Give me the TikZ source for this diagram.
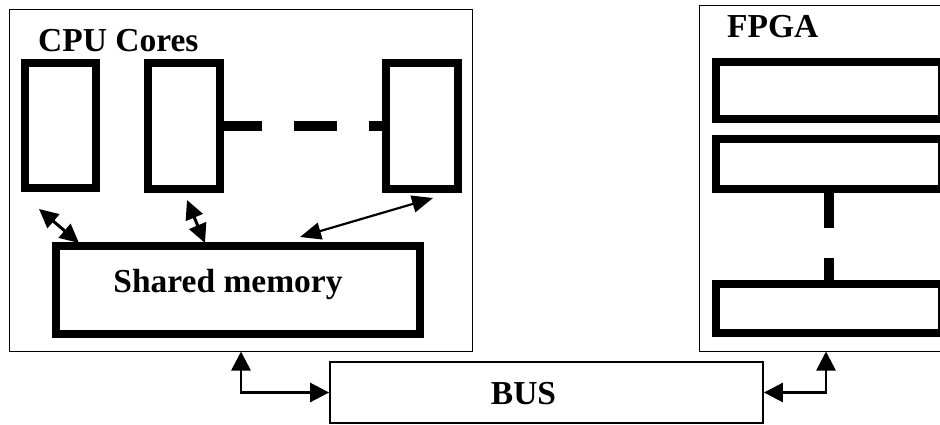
\documentclass[tikz,border=0pt]{standalone}
\usepackage{fontspec}
\setmainfont{Liberation Serif}
\usetikzlibrary{arrows.meta}
\tikzset{
  thinbox/.style={draw, line width=1.8pt, inner sep=0pt, fill=white},
  thickbox/.style={draw, line width=8pt, inner sep=0pt},
  lbl/.style={font=\fontsize{33.5}{40}\selectfont\bfseries, inner sep=0pt},
  buslink/.style={line width=2.7pt, {Triangle[length=19pt,width=19pt]}-{Triangle[length=19pt,width=19pt]}},
  corelink/.style={line width=3pt, {Triangle[length=19pt,width=18pt]}-{Triangle[length=19pt,width=18pt]}},
  corelinkthin/.style={line width=2.2pt, {Triangle[length=21pt,width=17pt]}-{Triangle[length=21pt,width=17pt]}},
  dashlink/.style={line width=10pt}
}
\begin{document}
\begin{tikzpicture}[x=1pt,y=-1pt]
\clip (0,0) rectangle (940,425);
\fill[white] (0,0) rectangle (940,425);
% CPU side
\node[thinbox, minimum width=463pt, minimum height=342pt] (cpu) at (241,180.5) {};
\node[lbl, anchor=base west] (cpulbl) at (38,52) {CPU Cores};
\node[thickbox, minimum width=71pt, minimum height=125pt] (c1) at (60.5,125.5) {};
\node[thickbox, minimum width=72pt, minimum height=126pt] (c2) at (184,126) {};
\node[thickbox, minimum width=72pt, minimum height=126pt] (c3) at (422,126) {};
\node[thickbox, minimum width=364pt, minimum height=88pt] (mem) at (238,290) {};
\node[lbl, anchor=base] (memlbl) at (228,292) {Shared memory};
\draw[dashlink, dash pattern=on 38pt off 32pt on 43pt off 32pt] (c2.east) -- (c2.east -| c3.west);
\coordinate (a1s) at (39,209);
\coordinate (a1e) at (79,243);
\coordinate (a2s) at (187,200);
\coordinate (a2e) at (205,243);
\coordinate (a3s) at (300,237);
\coordinate (a3e) at (433,198);
\draw[corelink] (a1s) -- (a1e);
\draw[corelink] (a2s) -- (a2e);
\draw[corelinkthin] (a3s) -- (a3e);
% FPGA side
\node[thinbox, minimum width=260.5pt, minimum height=346pt] (fpga) at (829.75,178.5) {};
\node[lbl, anchor=base west] (fpgalbl) at (727,38) {FPGA};
\node[thickbox, minimum width=226pt, minimum height=57pt] (f1) at (829,90.5) {};
\node[thickbox, minimum width=226pt, minimum height=50pt] (f2) at (829,164) {};
\node[thickbox, minimum width=226pt, minimum height=49pt] (f3) at (829,308.5) {};
\draw[dashlink, dash pattern=on 35pt off 30pt] (f2.south) -- (f3.north);
% BUS
\node[thinbox, minimum width=433pt, minimum height=61pt] (bus) at (546.5,392.5) {};
\node[lbl, anchor=base] (buslbl) at (523.5,404) {BUS};
\coordinate (p1) at (241,351.5);
\coordinate (p2) at (826,351.5);
\draw[buslink] (p1) |- (bus.west);
\draw[buslink] (p2) |- (bus.east);
\end{tikzpicture}
\end{document}
